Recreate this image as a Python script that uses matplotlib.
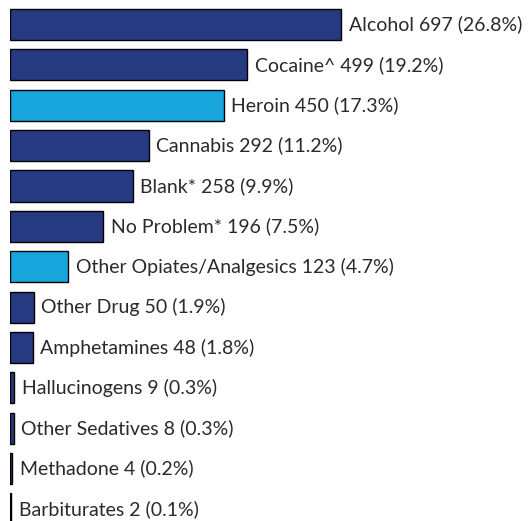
import matplotlib
matplotlib.use("Agg")
import matplotlib.pyplot as plt

categories = ["Alcohol", "Cocaine^", "Heroin", "Cannabis", "Blank*", "No Problem*",
              "Other Opiates/Analgesics", "Other Drug", "Amphetamines", "Hallucinogens",
              "Other Sedatives", "Methadone", "Barbiturates"]
counts = [697, 499, 450, 292, 258, 196, 123, 50, 48, 9, 8, 4, 2]
pcts = ["26.8%", "19.2%", "17.3%", "11.2%", "9.9%", "7.5%", "4.7%", "1.9%", "1.8%",
        "0.3%", "0.3%", "0.2%", "0.1%"]
highlight = ["Heroin", "Other Opiates/Analgesics"]

navy = "#263a82"
light = "#17a5dc"

plt.rcParams['font.family'] = ['Lato', 'DejaVu Sans']

fig = plt.figure(figsize=(5.32, 5.21), dpi=100)
ax = fig.add_axes([10 / 532, 0, 522 / 532, 1])

ypos = list(range(len(categories)))
colors = [light if c in highlight else navy for c in categories]
ax.barh(ypos, counts, height=0.77, color=colors, edgecolor="black", linewidth=1)

for y, c, n, p in zip(ypos, categories, counts, pcts):
    ax.annotate(f"{c} {n} ({p})", xy=(n, y), xytext=(5.5, 0), textcoords="offset points",
                va="center", ha="left", fontsize=14, color="#2a2a2a")

ax.set_xlim(0, 1099)
ax.set_ylim(12.297, -0.607)
ax.axis("off")

fig.savefig("out.png", dpi=100)
